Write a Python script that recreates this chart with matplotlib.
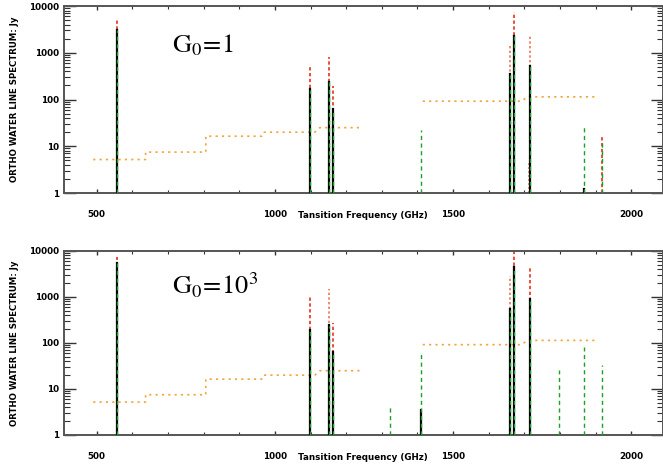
import numpy as np
import matplotlib
matplotlib.use("Agg")
import matplotlib.pyplot as plt
from matplotlib.ticker import FixedLocator, FixedFormatter, LogLocator, NullFormatter, MultipleLocator

plt.rcParams['mathtext.fontset'] = 'stix'

nan = np.nan
# Ortho-water transition frequencies (GHz)
freqs = [556.9, 1097.4, 1153.1, 1162.9, 1322.1, 1410.6, 1661.0, 1669.9, 1716.8, 1797.2, 1867.7, 1919.4]

# Panel 1: G0 = 1
red_1    = [5000, 520, 820, 194, nan, nan, nan, 7300, nan, nan, 1.3, 16]
salmon_1 = [nan, nan, nan, nan, nan, nan, 1380, nan, 2280, nan, nan, nan]
black_1  = [3080, 164, 240, 64, nan, nan, 350, 2300, 520, nan, 1.2, nan]
green_1  = [3000, 160, 235, 62, nan, 22, 340, 2250, 510, nan, 26, 13]

# Panel 2: G0 = 10^3
red_2    = [7400, 1040, nan, 275, nan, nan, nan, 10000, 4360, nan, nan, nan]
salmon_2 = [nan, nan, 1480, nan, nan, nan, 2870, nan, nan, nan, nan, nan]
black_2  = [5600, 196, 244, 64, nan, 3.5, 540, 4500, 890, nan, nan, nan]
green_2  = [5500, 190, 240, 62, 4.3, 59, 530, 4400, 880, 26, 83, 34]

# extra weak line close to 1716.8 GHz in panel 1
extra_f = [1712.5]
extra_v = [4.8]

# Instrument sensitivity (step curve, Jy)
sens_x1 = [490, 637, 637, 806, 806, 963, 968, 1112, 1126, 1238]
sens_y1 = [5.2, 5.2, 7.5, 7.5, 16.4, 16.4, 20, 20, 25, 25]
sens_x2 = [1415, 1693, 1708, 1905]
sens_y2 = [92, 92, 114, 114]

labels = [r'$\mathrm{G_0\!=\!1}$', r'$\mathrm{G_0\!=\!10^3}$']
ytick_vals = [1, 10, 100, 1000, 10000]
ytick_labels = ['1', '10', '100', '1000', '10000']

W, H = 663, 469
fig = plt.figure(figsize=(W / 100, H / 100), dpi=100)
left = 64 / W
width = (662.5 - 64) / W
ax1 = fig.add_axes([left, 1 - 193 / H, width, 187 / H])
ax2 = fig.add_axes([left, 1 - 435 / H, width, 184 / H])

RED = '#e8301c'
SALMON = '#f08872'
GREEN = '#1ea028'
ORANGE = '#f2a43a'

def draw(ax, red, salmon, black, green, label, text_y, extra=None):
    def vl(vals, **kw):
        for f, v in zip(freqs, vals):
            if not np.isnan(v):
                ax.plot([f, f], [1, v], **kw)
    vl(red, color=RED, lw=1.2, linestyle=(0, (2, 1.5)), zorder=2)
    vl(salmon, color=SALMON, lw=1.4, linestyle=(0, (1.2, 1.2)), zorder=2)
    if extra is not None:
        for f, v in zip(*extra):
            ax.plot([f, f], [1, v], color=SALMON, lw=1.2, linestyle=(0, (1.2, 1.2)), zorder=2)
    vl(black, color='black', lw=1.6, linestyle='-', zorder=3)
    vl(green, color=GREEN, lw=1.0, linestyle=(0, (3, 2.5)), zorder=4)
    ax.plot(sens_x1, sens_y1, color=ORANGE, lw=1.2, linestyle=(0, (1.3, 2.5)), zorder=1)
    ax.plot(sens_x2, sens_y2, color=ORANGE, lw=1.2, linestyle=(0, (1.3, 2.5)), zorder=1)

    ax.set_yscale('log')
    ax.set_xlim(408, 2088)
    ax.set_ylim(1, 10000)
    ax.yaxis.set_major_locator(FixedLocator(ytick_vals))
    ax.yaxis.set_major_formatter(FixedFormatter(ytick_labels))
    ax.yaxis.set_minor_locator(LogLocator(base=10, subs=np.arange(2, 10)))
    ax.yaxis.set_minor_formatter(NullFormatter())
    ax.xaxis.set_major_locator(FixedLocator([500, 1000, 1500, 2000]))
    ax.xaxis.set_minor_locator(MultipleLocator(100))
    ax.tick_params(axis='both', which='both', direction='in', top=True, right=True,
                   color='#333333')
    ax.tick_params(axis='y', which='major', length=8.6, width=1.0, pad=3.5)
    ax.tick_params(axis='y', which='minor', length=4.3, width=0.8)
    ax.tick_params(axis='x', which='major', length=3.0, width=1.0, pad=12)
    ax.tick_params(axis='x', which='minor', length=2.5, width=0.8)
    for t in ax.get_xticklabels() + ax.get_yticklabels():
        t.set_fontsize(6.3)
        t.set_fontweight('bold')
    for s in ax.spines.values():
        s.set_color('#555555')
        s.set_linewidth(1.4)
    ax.set_xlabel('Tansition Frequency (GHz)', fontsize=6.3, fontweight='bold')
    ax.xaxis.set_label_coords(0.5, -0.12)
    ax.xaxis.label.set_va('center')
    ax.set_ylabel('ORTHO WATER LINE SPECTRUM: Jy', fontsize=6.2, fontweight='bold')
    ax.yaxis.set_label_coords(-0.082, 0.5)
    ax.yaxis.label.set_va('center')
    ax.text(0.18, text_y, label, transform=ax.transAxes, fontsize=19,
            ha='left', va='baseline', color='black')

draw(ax1, red_1, salmon_1, black_1, green_1, labels[0], 0.754, extra=(extra_f, extra_v))
draw(ax2, red_2, salmon_2, black_2, green_2, labels[1], 0.766)

fig.savefig('out.png', dpi=100)
